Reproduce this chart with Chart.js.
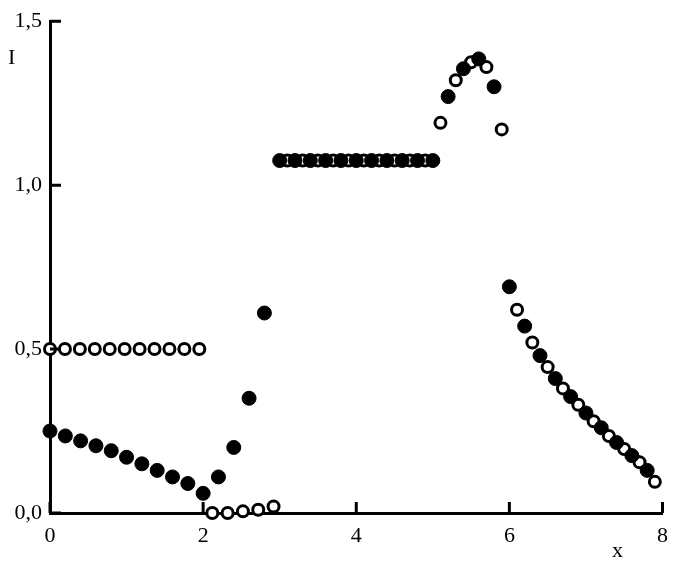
<!DOCTYPE html><html><head><script src="https://cdn.jsdelivr.net/npm/chart.js@4"></script>
<style>body{margin:0;background:#fff}#w{width:678px;height:563px}</style></head><body><div id="w"><canvas id="c"></canvas></div>
<script>
const filledX=[0,0.2,0.4,0.6,0.8,1.0,1.2,1.4,1.6,1.8,2.0,2.2,2.4,2.6,2.8,3.0,3.2,3.4,3.6,3.8,4.0,4.2,4.4,4.6,4.8,5.0,5.2,5.4,5.6,5.8,6.0,6.2,6.4,6.6,6.8,7.0,7.2,7.4,7.6,7.8];
const filledY=[0.25,0.235,0.22,0.205,0.19,0.17,0.15,0.13,0.11,0.09,0.06,0.11,0.2,0.35,0.61,1.075,1.075,1.075,1.075,1.075,1.075,1.075,1.075,1.075,1.075,1.075,1.27,1.355,1.385,1.30,0.69,0.57,0.48,0.41,0.355,0.305,0.26,0.215,0.175,0.13];
const openX=[0,0.195,0.39,0.585,0.78,0.975,1.17,1.365,1.56,1.755,1.95,2.12,2.32,2.52,2.72,2.92,3.1,3.3,3.5,3.7,3.9,4.1,4.3,4.5,4.7,4.9,5.1,5.3,5.5,5.7,5.9,6.1,6.3,6.5,6.7,6.9,7.1,7.3,7.5,7.7,7.9];
const openY=[0.5,0.5,0.5,0.5,0.5,0.5,0.5,0.5,0.5,0.5,0.5,0,0,0.005,0.01,0.02,1.075,1.075,1.075,1.075,1.075,1.075,1.075,1.075,1.075,1.075,1.19,1.32,1.375,1.36,1.17,0.62,0.52,0.445,0.38,0.33,0.28,0.235,0.195,0.155,0.095];
const xTicks=[0,2,4,6,8];
const yTicks=[0,0.5,1.0,1.5];
Chart.defaults.font.family="Liberation Serif";Chart.defaults.font.size=22;Chart.defaults.color="#000";
const lab={id:'lab',afterDraw(c){const x=c.ctx,sx=c.scales.x,sy=c.scales.y;x.save();
x.strokeStyle='#000';x.lineWidth=3;x.beginPath();
xTicks.forEach(v=>{const p=sx.getPixelForValue(v);x.moveTo(p,sy.bottom);x.lineTo(p,sy.bottom-11);});
yTicks.forEach(v=>{const p=sy.getPixelForValue(v);x.moveTo(sx.left,p);x.lineTo(sx.left+11,p);});
x.stroke();
x.font='22px Liberation Serif';x.fillStyle='#000';x.fillText('I',8,64);x.fillText('x',612,557);x.restore();}};
new Chart(document.getElementById('c'),{type:'scatter',plugins:[lab],
data:{datasets:[
{data:filledX.map((v,i)=>({x:v,y:filledY[i]})),pointRadius:7,pointBackgroundColor:'#000',pointBorderColor:'#000',pointBorderWidth:1},
{data:openX.map((v,i)=>({x:v,y:openY[i]})),pointRadius:5.5,pointBackgroundColor:'#fff',pointBorderColor:'#000',pointBorderWidth:3}]},
options:{animation:false,responsive:true,maintainAspectRatio:false,clip:false,
layout:{padding:{left:0,right:13,top:15,bottom:0}},
plugins:{legend:{display:false},tooltip:{enabled:false}},
scales:{
x:{type:'linear',min:0,max:8,afterBuildTicks:a=>{a.ticks=xTicks.map(v=>({value:v}))},afterFit:a=>{a.height=50},
border:{color:'#000',width:3},grid:{display:false,drawTicks:false},ticks:{padding:10,callback:v=>v}},
y:{min:0,max:1.5,afterBuildTicks:a=>{a.ticks=yTicks.map(v=>({value:v}))},afterFit:a=>{a.width=50},
border:{color:'#000',width:3},grid:{display:false,drawTicks:false},ticks:{padding:8,callback:v=>v.toFixed(1).replace('.',',')}}}}});
</script></body></html>
